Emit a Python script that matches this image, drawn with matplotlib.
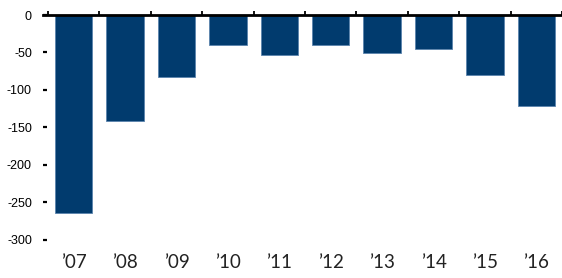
import numpy as np
import matplotlib.pyplot as plt

years = ["\u201907", "\u201908", "\u201909", "\u201910", "\u201911",
         "\u201912", "\u201913", "\u201914", "\u201915", "\u201916"]
values = [-264, -142, -83, -40, -54, -40, -51, -46, -80, -122]
yticks = [0, -50, -100, -150, -200, -250, -300]

W, H = 562, 278
fig = plt.figure(figsize=(W / 100, H / 100), dpi=100)
ax = fig.add_axes([43 / W, 1 - 247 / H, (W - 43) / W, (247 - 15) / H])

x = np.arange(len(values))
ax.bar(x, values, width=0.73, color="#013B6E", edgecolor="#5b83ad", linewidth=0.6)

ax.set_xlim(-0.596, 9.33)
ax.set_ylim(-310, 0)

for s in ["left", "right", "bottom"]:
    ax.spines[s].set_visible(False)
ax.spines["top"].set_linewidth(2)
ax.spines["top"].set_color("black")

# category labels at bottom, boundary ticks on the zero line
ax.set_xticks(x)
ax.set_xticklabels(years, fontfamily="Lato", fontsize=13.5, color="#222222")
ax.tick_params(axis="x", which="major", length=0, pad=5)
ax.set_xticks(np.arange(-0.5, 10, 1), minor=True)
ax.tick_params(axis="x", which="minor", top=True, bottom=False, direction="out",
               length=3, width=1.3, color="black")

ax.set_yticks(yticks)
ax.set_yticklabels([str(v) for v in yticks], fontfamily="Liberation Sans", fontsize=9)
ax.tick_params(axis="y", direction="in", length=3, width=1.6, pad=8, color="black")

fig.savefig("out.png", dpi=100)
